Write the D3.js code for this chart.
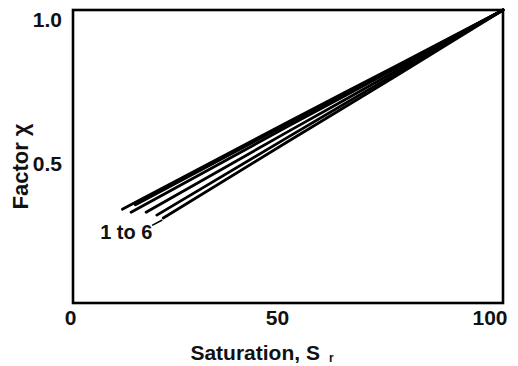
<!DOCTYPE html>
<html>
<head>
<meta charset="utf-8">
<script src="https://cdn.jsdelivr.net/npm/d3@7"></script>
<style>
  body { margin: 0; background: #fff; }
  text { font-family: "Liberation Sans", Arial, sans-serif; font-weight: bold; fill: #111; }
</style>
</head>
<body>
<svg id="chart" width="518" height="366"></svg>
<script>
// saturation values (%) where each curve is sampled
const curveX = [
  [11.5, 50, 75, 100],
  [13.5, 50, 75, 100],
  [14.5, 50, 75, 100],
  [17.0, 50, 75, 100],
  [19.5, 50, 75, 100],
  [21.0, 50, 75, 100]
];
// factor chi for the 6 curves
const curveY = [
  [0.320, 0.618, 0.808, 1.0],
  [0.310, 0.603, 0.800, 1.0],
  [0.335, 0.612, 0.805, 1.0],
  [0.310, 0.585, 0.791, 1.0],
  [0.300, 0.566, 0.782, 1.0],
  [0.290, 0.551, 0.774, 1.0]
];
const xTicks = [0, 50, 100];
const yTicks = [0.5, 1.0];

const margin = { top: 10, right: 15, bottom: 63, left: 73 };
const width = 518 - margin.left - margin.right;
const height = 366 - margin.top - margin.bottom;

const x = d3.scaleLinear().domain([0, 100]).range([0, width]);
const y = d3.scaleLinear().domain([0, 1]).range([height, 0]);

const g = d3.select('#chart')
  .append('g')
  .attr('transform', 'translate(' + margin.left + ',' + margin.top + ')');

// curves
const line = d3.line()
  .curve(d3.curveMonotoneX)
  .x(function (d) { return x(d[0]); })
  .y(function (d) { return y(d[1]); });

curveX.forEach(function (xs, i) {
  const pts = xs.map(function (v, j) { return [v, curveY[i][j]]; });
  g.append('path')
    .attr('d', line(pts))
    .attr('fill', 'none')
    .attr('stroke', '#000')
    .attr('stroke-width', 2.8)
    .attr('stroke-linecap', 'round');
});

// frame
g.append('rect')
  .attr('x', 0)
  .attr('y', 0)
  .attr('width', width)
  .attr('height', height)
  .attr('fill', 'none')
  .attr('stroke', '#000')
  .attr('stroke-width', 2.6);

// x axis
const xAxis = g.append('g')
  .attr('transform', 'translate(0,' + height + ')')
  .call(d3.axisBottom(x).tickValues(xTicks).tickSize(0).tickPadding(7).tickFormat(d3.format('d')));
xAxis.select('.domain').remove();
xAxis.selectAll('text')
  .style('font-size', '21px')
  .attr('dy', '0.72em')
  .attr('text-anchor', function (d) { return d === 100 ? 'end' : 'middle'; })
  .attr('dx', function (d) { return d === 0 ? -3 : (d === 50 ? -11 : 4); });

// y axis
const yAxis = g.append('g')
  .call(d3.axisLeft(y).tickValues(yTicks).tickSize(0).tickPadding(11).tickFormat(d3.format('.1f')));
yAxis.select('.domain').remove();
yAxis.selectAll('text')
  .style('font-size', '21px')
  .attr('dy', function (d) { return d === 1 ? '0.8em' : '0.65em'; });

// axis titles
const xt = g.append('text')
  .attr('x', x(50) - 26)
  .attr('y', height + 57)
  .attr('text-anchor', 'middle')
  .style('font-size', '21px')
  .text('Saturation, S');
xt.append('tspan')
  .attr('dx', 9)
  .attr('dy', 2)
  .style('font-size', '12px')
  .text('r');

g.append('text')
  .attr('transform', 'translate(' + (-45) + ',' + (y(0.5) + 10) + ') rotate(-90)')
  .attr('text-anchor', 'middle')
  .style('font-size', '22px')
  .text('Factor \u03C7');

// curve label and leader
g.append('text')
  .attr('x', x(12.4))
  .attr('y', y(0.22))
  .attr('text-anchor', 'middle')
  .style('font-size', '20px')
  .text('1 to 6');

g.append('path')
  .attr('d', d3.line()([[x(18.4), y(0.265)], [x(curveX[5][0]) - 1, y(curveY[5][0]) + 2]]))
  .attr('fill', 'none')
  .attr('stroke', '#000')
  .attr('stroke-width', 1.6);
</script>
</body>
</html>
